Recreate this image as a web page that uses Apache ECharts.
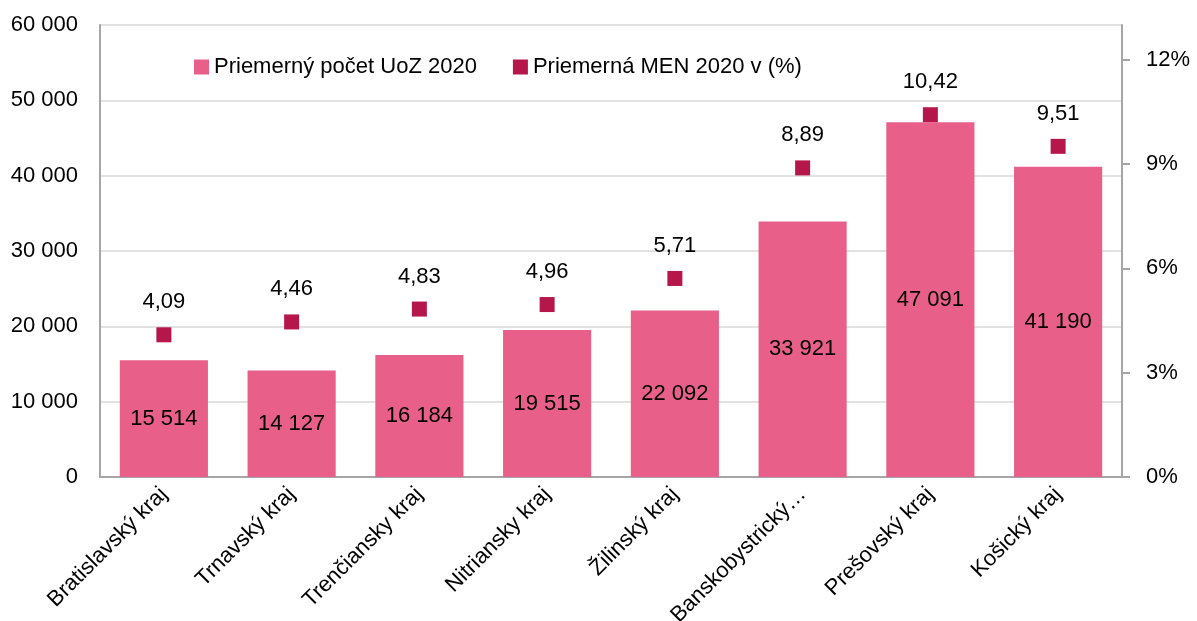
<!DOCTYPE html>
<html>
<head>
<meta charset="utf-8">
<script src="https://cdn.jsdelivr.net/npm/echarts@6/dist/echarts.min.js"></script>
<style>
  html, body { margin: 0; padding: 0; background: #fff; }
  #chart { width: 1197px; height: 621px; }
</style>
</head>
<body>
<div id="chart"></div>
<script>
// data
const regions = [
  "Bratislavský kraj", "Trnavský kraj", "Trenčiansky kraj", "Nitriansky kraj",
  "Žilinský kraj", "Banskobystrický kraj", "Prešovský kraj", "Košický kraj"
];
const uozCount = [15514, 14127, 16184, 19515, 22092, 33921, 47091, 41190];
const menRate = [4.09, 4.46, 4.83, 4.96, 5.71, 8.89, 10.42, 9.51];
const rateTicks = [0, 3, 6, 9, 12];

const FONT = "'Liberation Sans', Arial, sans-serif";
const fmtThousands = (v) => String(Math.round(v)).replace(/\B(?=(\d{3})+(?!\d))/g, " ");

const chart = echarts.init(document.getElementById("chart"));

chart.setOption({
  animation: false,
  textStyle: { fontFamily: FONT, color: "#000" },
  legend: {
    top: 51,
    left: 189,
    itemWidth: 15,
    itemHeight: 15,
    itemGap: 36,
    icon: "rect",
    textStyle: { fontSize: 22, color: "#000", fontFamily: FONT },
    data: ["Priemerný počet UoZ 2020", "Priemerná MEN 2020 v (%)"]
  },
  grid: { left: 100, right: 75, top: 25, bottom: 144, outerBoundsMode: "none", containLabel: false },
  xAxis: {
    type: "category",
    data: regions,
    axisLine: { lineStyle: { color: "#a6a6a6", width: 2 } },
    axisTick: { show: false },
    axisLabel: {
      interval: 0,
      rotate: 45,
      fontSize: 22,
      color: "#000",
      fontFamily: FONT,
      margin: 14,
      formatter: (v) => (v.length > 18 ? v.slice(0, 15) + "…" : v)
    }
  },
  yAxis: [
    {
      type: "value",
      min: 0,
      max: 60000,
      interval: 10000,
      axisLine: { show: true, lineStyle: { color: "#a6a6a6", width: 2 } },
      axisTick: { show: false },
      splitLine: { lineStyle: { color: "#d9d9d9", width: 1.5 } },
      axisLabel: {
        fontSize: 22,
        color: "#000",
        fontFamily: FONT,
        margin: 22,
        formatter: fmtThousands
      }
    },
    {
      type: "value",
      position: "right",
      min: 0,
      max: 13,
      interval: 3,
      axisLine: { show: true, lineStyle: { color: "#a6a6a6", width: 2 } },
      axisTick: { show: true, length: 8, customValues: rateTicks, lineStyle: { color: "#a6a6a6", width: 2 } },
      splitLine: { show: false },
      axisLabel: {
        fontSize: 22,
        color: "#000",
        fontFamily: FONT,
        margin: 24,
        customValues: rateTicks,
        formatter: (v) => v + "%"
      }
    }
  ],
  series: [
    {
      name: "Priemerný počet UoZ 2020",
      type: "bar",
      data: uozCount,
      barWidth: "69%",
      itemStyle: { color: "#e8608a" },
      label: {
        show: true,
        position: "inside",
        fontSize: 22,
        color: "#000",
        fontFamily: FONT,
        formatter: (p) => fmtThousands(p.value)
      }
    },
    {
      name: "Priemerná MEN 2020 v (%)",
      type: "scatter",
      yAxisIndex: 1,
      data: menRate,
      symbol: "rect",
      symbolSize: 15,
      itemStyle: { color: "#b5174b", opacity: 1 },
      label: {
        show: true,
        position: "top",
        distance: 14,
        fontSize: 22,
        color: "#000",
        opacity: 1,
        fontFamily: FONT,
        formatter: (p) => p.value.toFixed(2).replace(".", ",")
      }
    }
  ]
});

window.addEventListener("resize", () => chart.resize());
</script>
</body>
</html>
